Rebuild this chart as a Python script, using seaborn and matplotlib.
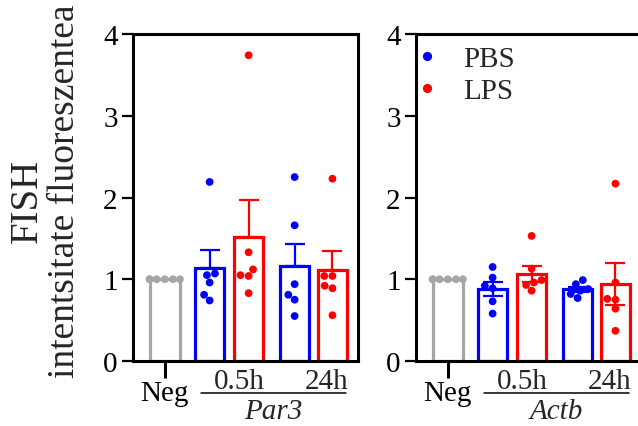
import numpy as np
import pandas as pd
import matplotlib
matplotlib.use("Agg")
import matplotlib.pyplot as plt
import seaborn as sns
from matplotlib.lines import Line2D

sns.set_theme(style="ticks")
plt.rcParams['font.family'] = ['Liberation Serif', 'DejaVu Serif']

# ---------------- data ----------------
conditions = ["Neg", "PBS 0.5h", "LPS 0.5h", "PBS 24h", "LPS 24h"]
treatments = ["Neg", "PBS", "LPS", "PBS", "LPS"]
time_labels = ["0.5h", "24h"]
genes = ["Par3", "Actb"]
yticks = [0, 1, 2, 3, 4]
ylabel_top = "FISH"
ylabel_bottom = "intentsitate fluoreszentea"

par3_neg = [1.0, 1.0, 1.0, 1.0, 1.0, 1.0]
par3_pbs_05 = [2.19, 1.07, 1.05, 0.96, 0.81, 0.74]
par3_lps_05 = [3.74, 1.33, 1.12, 1.05, 1.04, 0.83]
par3_pbs_24 = [2.25, 1.66, 0.94, 0.81, 0.75, 0.55]
par3_lps_24 = [2.23, 1.04, 1.04, 0.92, 0.89, 0.56]

actb_neg = [1.0, 1.0, 1.0, 1.0, 1.0, 1.0]
actb_pbs_05 = [1.15, 1.02, 0.92, 0.89, 0.73, 0.58]
actb_lps_05 = [1.53, 1.13, 0.99, 0.96, 0.93, 0.86]
actb_pbs_24 = [0.99, 0.94, 0.88, 0.86, 0.82, 0.77]
actb_lps_24 = [2.17, 0.96, 0.76, 0.75, 0.64, 0.37]

# ---------------- layout / style ----------------
XPOS = [0.0, 1.15, 2.15, 3.33, 4.30]
PALETTE = {"Neg": "#a6a6aa", "PBS": "#0000ff", "LPS": "#ff0000"}
TIME_X = [1.92, 4.15]
GENE_X = 2.78
LINE_X = (0.93, 4.64)
FS = 21


def make_df(groups):
    rows = []
    for pos, cond, trt, vals in zip(XPOS, conditions, treatments, groups):
        for v in vals:
            rows.append({"pos": pos, "cond": cond, "treatment": trt, "value": v})
    return pd.DataFrame(rows)


df_par3 = make_df([par3_neg, par3_pbs_05, par3_lps_05, par3_pbs_24, par3_lps_24])
df_actb = make_df([actb_neg, actb_pbs_05, actb_lps_05, actb_pbs_24, actb_lps_24])

fig = plt.figure(figsize=(6.38, 4.27), dpi=100)
W, H = 638.0, 427.0
ax1 = fig.add_axes([133 / W, 1 - 362 / H, 225 / W, 327 / H])
ax2 = fig.add_axes([416 / W, 1 - 362 / H, 225 / W, 327 / H])


def draw_panel(ax, df, gene, both_err):
    sns.barplot(data=df, x="pos", y="value", hue="treatment", palette=PALETTE,
                native_scale=True, fill=False, errorbar=None, width=0.78,
                linewidth=2.3, dodge=False, legend=False, ax=ax, zorder=2)
    # error bars (mean +/- SEM)
    stats = df.groupby(["pos", "treatment"], sort=False)["value"].agg(["mean", "sem"]).reset_index()
    for _, r in stats.iterrows():
        if r["treatment"] == "Neg":
            continue
        lower = r["sem"] if both_err else 0.0
        ax.errorbar([r["pos"]], [r["mean"]], yerr=[[lower], [r["sem"]]], fmt="none",
                    ecolor=PALETTE[r["treatment"]], elinewidth=1.6, capsize=7,
                    capthick=1.6, zorder=3)
    sns.swarmplot(data=df, x="pos", y="value", hue="treatment", palette=PALETTE,
                  native_scale=True, size=5.6, dodge=False, legend=False, ax=ax,
                  zorder=4, linewidth=0)
    ax.set_xlim(-0.815, 4.955)
    ax.set_ylim(0, 4)
    ax.set_yticks(yticks)
    ax.set_yticklabels([str(t) for t in yticks], fontsize=FS)
    ax.set_xticks([XPOS[0]])
    ax.set_xticklabels([conditions[0]], fontsize=FS)
    ax.set_xlabel("")
    ax.set_ylabel("")
    ax.tick_params(axis="y", length=8, width=1.6, pad=3, colors="black")
    ax.tick_params(axis="x", length=12, width=2.2, pad=2, colors="black")
    for sp in ax.spines.values():
        sp.set_visible(True)
        sp.set_linewidth(2.2)
        sp.set_color("black")
    trans = ax.get_xaxis_transform()
    for x, t in zip(TIME_X, time_labels):
        ax.text(x, -0.060, t, ha="center", va="center", fontsize=FS, transform=trans, clip_on=False)
    ax.plot(list(LINE_X), [-0.098, -0.098], color="black", lw=1.1, transform=trans, clip_on=False)
    ax.text(GENE_X, -0.153, gene, ha="center", va="center", fontsize=FS, style="italic",
            transform=trans, clip_on=False)


draw_panel(ax1, df_par3, genes[0], both_err=False)
draw_panel(ax2, df_actb, genes[1], both_err=True)
ax2.spines["right"].set_visible(False)

handles = [Line2D([], [], marker="o", ls="", color=PALETTE["PBS"], markersize=5.6, label="PBS"),
           Line2D([], [], marker="o", ls="", color=PALETTE["LPS"], markersize=5.6, label="LPS")]
ax2.legend(handles=handles, loc="upper left", bbox_to_anchor=(0.01, 0.965), frameon=False,
           fontsize=FS, handlelength=0.6, handletextpad=0.95, borderpad=0, borderaxespad=0,
           labelspacing=0.2)

fig.text(27 / W, 1 - 201 / H, ylabel_top, rotation=90, ha="center", va="center", fontsize=28)
fig.text(65 / W, 1 - 378 / H, ylabel_bottom, rotation=90, ha="center", va="bottom", fontsize=27)

fig.savefig("out.png", dpi=100)
